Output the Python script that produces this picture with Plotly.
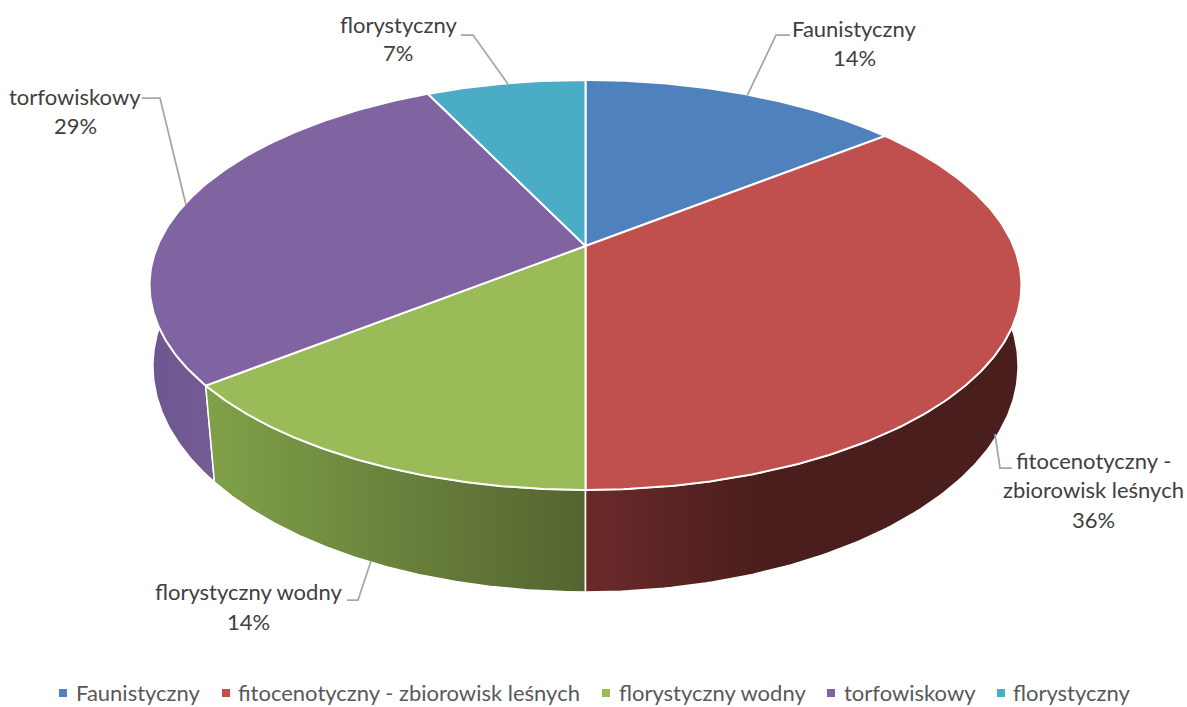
import numpy as np
import plotly.graph_objects as go

categories = ["Faunistyczny", "fitocenotyczny - zbiorowisk leśnych", "florystyczny wodny", "torfowiskowy", "florystyczny"]
values = [14.3, 35.7, 14.3, 28.6, 7.1]
colors = ["#4F81BD", "#C0504D", "#9BBB59", "#8064A2", "#4BACC6"]
side_gradients = {
    1: ("#6B2A2A", "#4A1E1C", 585, 760),
    2: ("#7F9F48", "#546430", 217, 585),
    3: ("#6E5790", "#745C94", 153, 217),
}
W, H = 1187, 707
FONT = "Lato"

TOP = dict(cx=585.5, cy=246, a=428, b=197.6, k=0.19)
BOTTOM = dict(cx=585.5, cy=329.8, a=427, b=220.2, k=0.16)


def project(theta, p):
    u, v = np.sin(theta), np.cos(theta)
    w = 1 + p["k"] * v
    return p["cx"] + p["a"] * u / w, p["cy"] - p["b"] * v / w


total = sum(values)
edges = np.cumsum([0] + values) / total * 2 * np.pi
fig = go.Figure()

# side walls first, the top surface covers whatever lies behind it
for i in [3, 2, 1]:
    t = np.linspace(edges[i], edges[i + 1], 160)
    xt, yt = project(t, TOP)
    xb, yb = project(t[::-1], BOTTOM)
    c0, c1, start, stop = side_gradients[i]
    fig.add_trace(go.Scatter(
        x=np.r_[xt, xb, xt[0]], y=np.r_[yt, yb, yt[0]],
        mode="lines", fill="toself", name=categories[i] + " (bok)",
        line=dict(color="white", width=1.5),
        fillgradient=dict(type="horizontal", colorscale=[[0, c0], [1, c1]], start=start, stop=stop),
        hoverinfo="skip", showlegend=False))

for i in range(len(values)):
    t = np.linspace(edges[i], edges[i + 1], 160)
    xt, yt = project(t, TOP)
    fig.add_trace(go.Scatter(
        x=np.r_[TOP["cx"], xt, TOP["cx"]], y=np.r_[TOP["cy"], yt, TOP["cy"]],
        mode="lines", fill="toself", fillcolor=colors[i], name=categories[i],
        line=dict(color="white", width=2),
        text=f"{categories[i]}: {round(values[i])}%", hoverinfo="text", showlegend=False))

# data labels: text lines with their centres, leader line
label_layout = [
    (0, [("Faunistyczny", 854, 28), ("{p}", 854, 57)], [(790, 35), (776, 35), (747, 96)]),
    (4, [("florystyczny", 398, 24), ("{p}", 398, 52)], [(461, 35), (473, 35), (508, 84)]),
    (3, [("torfowiskowy", 75, 96), ("{p}", 75, 125)], [(142, 98), (160, 98), (186, 205)]),
    (1, [("fitocenotyczny -", 1093, 460), ("zbiorowisk leśnych", 1093, 489), ("{p}", 1093, 519)],
     [(1012, 468), (1000, 468), (995, 434)]),
    (2, [("florystyczny wodny", 248, 591), ("{p}", 248, 621)], [(347, 600), (358, 600), (371, 561)]),
]
annotations, shapes = [], []
for i, lines, leader in label_layout:
    for txt, x, y in lines:
        annotations.append(dict(
            x=x, y=y, xref="x", yref="y", showarrow=False, xanchor="center", yanchor="middle",
            text=txt.format(p=f"{round(values[i])}%"), font=dict(family=FONT, size=22, color="#404040")))
    path = "M" + " L".join(f"{x},{y}" for x, y in leader)
    shapes.append(dict(type="path", path=path, xref="x", yref="y", line=dict(color="#A6A6A6", width=1.75)))

# legend row
text_x = [74, 236, 617, 842, 1011]
swatch_x = [63, 238 - 12, 606, 831, 1001]
fig.add_trace(go.Scatter(
    x=swatch_x, y=[693] * 5, mode="markers", hoverinfo="skip", showlegend=False,
    marker=dict(symbol="square", size=8, color=colors)))
for name, x in zip(categories, text_x):
    annotations.append(dict(
        x=x, y=692.5, xref="x", yref="y", showarrow=False, xanchor="left", yanchor="middle",
        text=name, font=dict(family=FONT, size=22, color="#595959")))

fig.update_layout(
    width=W, height=H, margin=dict(l=0, r=0, t=0, b=0), paper_bgcolor="white", plot_bgcolor="white",
    xaxis=dict(range=[0, W], visible=False, fixedrange=True),
    yaxis=dict(range=[H, 0], visible=False, fixedrange=True),
    annotations=annotations, shapes=shapes, showlegend=False)

fig.write_html("out.html", config={"displayModeBar": False},
               post_script="document.body.style.margin='0';document.body.style.overflow='hidden';")
